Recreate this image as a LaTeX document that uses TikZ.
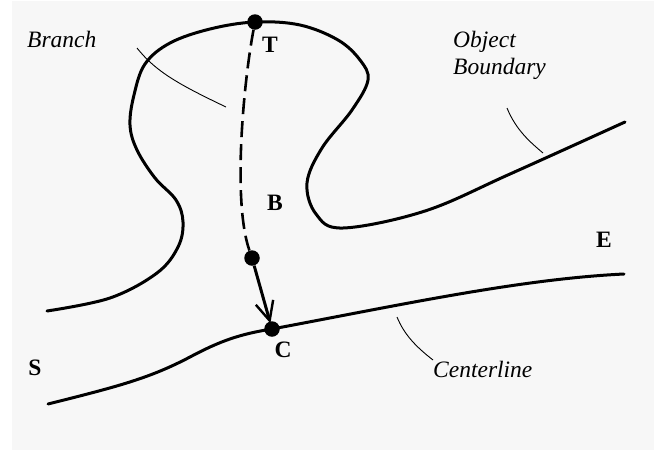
\documentclass[tikz,border=0pt]{standalone}
\usepackage{fontspec}
\setmainfont{Liberation Serif}
\usetikzlibrary{arrows.meta,calc}
\begin{document}
\begin{tikzpicture}[x=1pt,y=-1pt,
  curve/.style={line width=3pt, line cap=round, line join=round},
  leader/.style={line width=0.9pt},
  dot/.style={circle, fill=black, inner sep=0pt, minimum size=15.5pt},
  lbl/.style={font=\fontsize{23.5}{27}\selectfont\bfseries, inner sep=0pt, anchor=base},
  itl/.style={font=\fontsize{23.5}{27}\selectfont\itshape, inner sep=0pt, anchor=base west}]
\useasboundingbox (0,0) rectangle (654,451);
\fill[white] (0,0) rectangle (654,451);
\fill[black!3] (12,1) rectangle (654,450);
% object boundary (upper)
\draw[curve] plot[smooth, tension=0.6] coordinates {
 (47,311) (110,298) (157,273) (178,247) (183,222) (176,200)
 (155,178) (137,150) (130,125) (134,95) (145,64) (170,43) (210,29)
 (255,22) (300,25) (338,40) (360,60) (368,80) (352,110) (322,148)
 (307,183) (316,214) (343,228) (425,211) (510,174) (625,122)};
% nodes
\node[dot] (T) at (255,22) {};
\node[dot] (bd) at (252,258) {};
\node[dot] (C) at (272,329) {};
% centerline
\coordinate (S0) at (48,404);
\coordinate (E0) at (624,274);
\draw[curve] (S0) .. controls (120,386) and (150,378) .. (190,357)
  .. controls (220,341) and (240,334) .. (C.center)
  .. controls (400,305) and (520,279) .. (E0);
% dashed branch
\draw[line width=2.6pt, dash pattern=on 16pt off 7pt] (T) .. controls (244,80) and (232,200) .. (bd);
% arrow
\draw[line width=3pt, -{Straight Barb[length=19pt,width=18pt,line width=2.4pt]}]
  (bd) -- ($(bd)!0.92!(C)$);
% labels
\node[lbl] (lT) at (270,52) {T};
\node[lbl] (lB) at (275,210) {B};
\node[lbl] (lC) at (283,357) {C};
\node[lbl] (lS) at (35,375) {S};
\node[lbl] (lE) at (604,247) {E};
\node[itl] (branch) at (27,47) {Branch};
\node[itl] (obj) at (453,47) {Object};
\node[itl] (bnd) at (453,74) {Boundary};
\node[itl] (cen) at (433,377) {Centerline};
% leaders
\coordinate (b1) at (137,48); \coordinate (b2) at (226,107);
\draw[leader] (b1) .. controls (156,72) and (180,85) .. (b2);
\coordinate (o1) at (507,108); \coordinate (o2) at (543,153);
\draw[leader] (o1) .. controls (516,130) and (530,142) .. (o2);
\coordinate (c1) at (397,317); \coordinate (c2) at (433,360);
\draw[leader] (c1) .. controls (404,334) and (415,346) .. (c2);
\end{tikzpicture}
\end{document}
